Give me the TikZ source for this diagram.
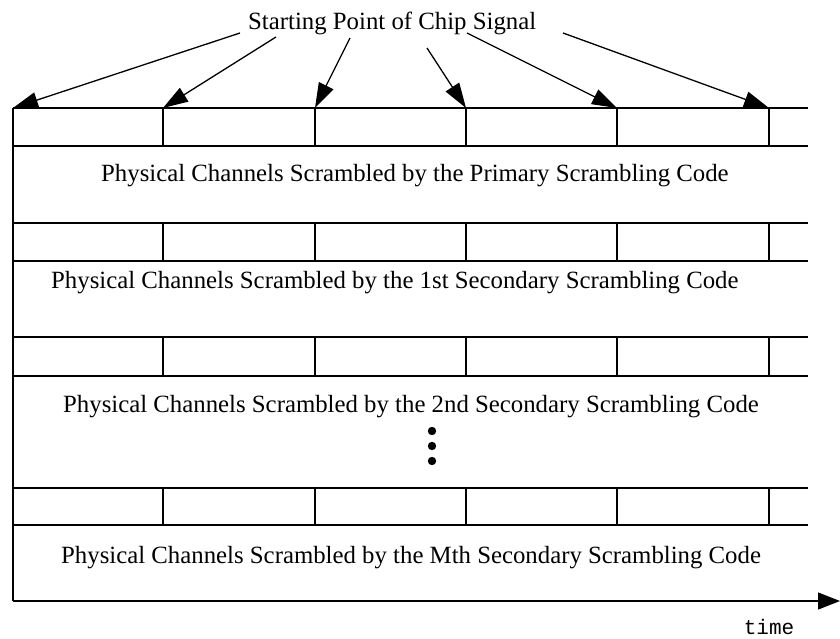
\documentclass[tikz,border=0pt]{standalone}
\usepackage{fontspec}
\setmainfont{Liberation Serif}
\newfontfamily\monofont{Liberation Mono}
\usetikzlibrary{arrows.meta}
\begin{document}
\begin{tikzpicture}[x=1pt,y=-1pt,
  line/.style={line width=1.3pt},
  ptr/.style={line width=1.3pt,-{Triangle[length=25pt,width=16pt]}},
  lbl/.style={inner sep=0pt,anchor=base west,font=\fontsize{24.8}{28}\selectfont},
  dot/.style={fill=black,draw=none}]
\useasboundingbox (0,0) rectangle (840,639);
% title
\node[lbl] (title) at (248,30) {Starting Point of Chip Signal};
% chip start points
\foreach \i/\x in {1/13,2/163,3/315,4/466,5/617,6/769}{
  \coordinate (p\i) at (\x,108);
}
\coordinate (s1) at (240,33);
\coordinate (s2) at (276,37);
\coordinate (s3) at (350,38);
\coordinate (s4) at (427,48);
\coordinate (s5) at (467,33);
\coordinate (s6) at (563,33);
\foreach \i in {1,...,6}{ \draw[ptr] (s\i) -- (p\i); }
% rows of chips
\foreach \r/\t/\b in {1/108/146,2/223/261,3/337/376,4/488/525}{
  \draw[line] (13,\t) -- (808,\t);
  \draw[line] (13,\b) -- (808,\b);
  \foreach \x in {163,315,466,617,769}{ \draw[line] (\x,\t) -- (\x,\b); }
}
% axis
\coordinate (o) at (13,601);
\coordinate (top) at (13,108);
\coordinate (xend) at (840,601);
\draw[line] (top) -- (o);
\draw[line,-{Triangle[length=22pt,width=17pt]}] (o) -- (xend);
\node[inner sep=0pt,font=\monofont\fontsize{21}{24}\selectfont] (time) at (769,627) {time};
% row labels
\node[lbl] (r1) at (101,182) {Physical Channels Scrambled by the Primary Scrambling Code};
\node[lbl] (r2) at (51,288) {Physical Channels Scrambled by the 1st Secondary Scrambling Code};
\node[lbl] (r3) at (63,412) {Physical Channels Scrambled by the 2nd Secondary Scrambling Code};
\node[lbl] (r4) at (61,563) {Physical Channels Scrambled by the Mth Secondary Scrambling Code};
% dots
\foreach \y in {431,446,461}{ \fill[dot] (432,\y) circle (4.2); }
\end{tikzpicture}
\end{document}
